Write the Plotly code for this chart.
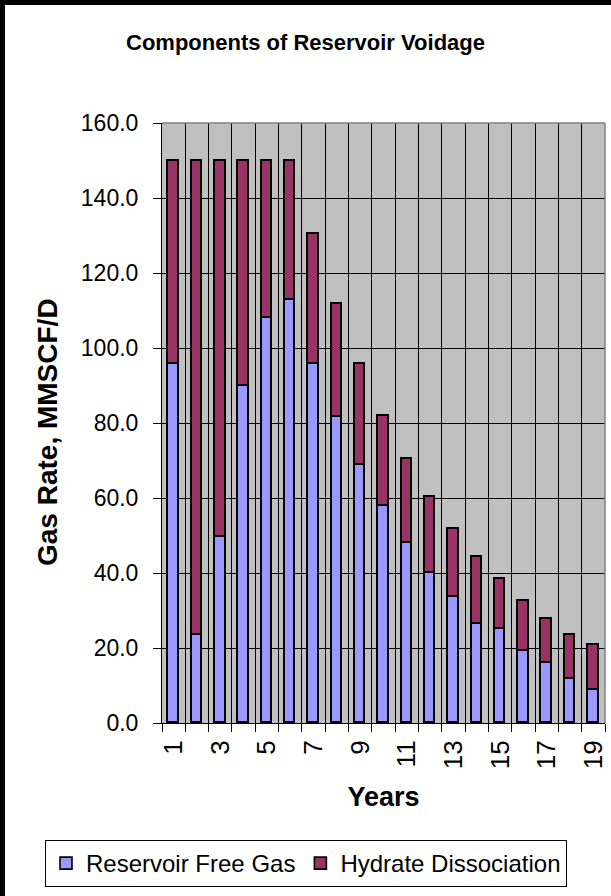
import plotly.graph_objects as go

years = [1, 2, 3, 4, 5, 6, 7, 8, 9, 10, 11, 12, 13, 14, 15, 16, 17, 18, 19]
free_gas = [95.7, 23.6, 49.7, 90.0, 108.0, 112.7, 95.7, 81.5, 68.7, 58.0,
            48.0, 40.1, 33.7, 26.3, 25.2, 19.3, 16.1, 11.8, 8.7]
hydrate = [54.3, 126.4, 100.3, 60.0, 42.0, 37.3, 34.6, 30.2, 27.1, 24.0,
           22.3, 20.2, 18.1, 18.1, 13.2, 13.3, 11.7, 11.8, 12.2]
tick_years = [1, 3, 5, 7, 9, 11, 13, 15, 17, 19]
y_ticks = [0, 20, 40, 60, 80, 100, 120, 140, 160]

W, H = 611, 896
L, R, T, B = 162, 6, 123, 173
FONT = "Liberation Sans, Arial, sans-serif"

boundaries = [y - 0.5 for y in years] + [years[-1] + 0.5]

fig = go.Figure()
fig.add_trace(go.Bar(x=years, y=free_gas, name="Reservoir Free Gas",
                     marker=dict(color="#9999FF", line=dict(color="black", width=1.6)),
                     width=0.45))
fig.add_trace(go.Bar(x=years, y=hydrate, name="Hydrate Dissociation",
                     marker=dict(color="#993366", line=dict(color="black", width=1.6)),
                     width=0.45))

pw = W - L - R
ph = H - T - B
def px_x(p):
    return (p - L) / pw
def px_y(p):
    return (H - B - p) / ph

shapes = [
    # black frame: left band and top band
    dict(type="rect", xref="paper", yref="paper", x0=px_x(-5), x1=px_x(5),
         y0=px_y(H + 5), y1=px_y(-5), fillcolor="black",
         line=dict(width=0), layer="above"),
    dict(type="rect", xref="paper", yref="paper", x0=px_x(-5), x1=px_x(W + 5),
         y0=px_y(5), y1=px_y(-5), fillcolor="black",
         line=dict(width=0), layer="above"),
    # gray top and right border of plot area
    dict(type="line", xref="paper", yref="paper", x0=0, x1=1, y0=1, y1=1,
         line=dict(color="#808080", width=1.5), layer="above"),
    dict(type="line", xref="paper", yref="paper", x0=1, x1=1, y0=0, y1=1,
         line=dict(color="#808080", width=1.5), layer="above"),
]

annotations = [
    dict(text="<b>Gas Rate, MMSCF/D</b>", xref="paper", yref="paper",
         x=px_x(47), y=px_y(432), xanchor="center", yanchor="middle",
         textangle=-90, showarrow=False,
         font=dict(family=FONT, size=28, color="black")),
]

fig.update_layout(
    width=W, height=H, autosize=False,
    margin=dict(l=L, r=R, t=T, b=B, autoexpand=False),
    barmode="stack",
    paper_bgcolor="white",
    plot_bgcolor="#C0C0C0",
    font=dict(family=FONT, color="black"),
    title=dict(text="<b>Components of Reservoir Voidage</b>", x=0.5, xref="container",
               y=1 - 42 / H, yanchor="middle", yref="container",
               font=dict(family=FONT, size=22, color="black")),
    showlegend=True,
    legend=dict(orientation="h", x=px_x(45), xanchor="left", y=px_y(840), yanchor="top",
                bordercolor="black", borderwidth=1, bgcolor="white",
                font=dict(family=FONT, size=24, color="black"), traceorder="normal",
                itemwidth=30),
    shapes=shapes,
    annotations=annotations,
    bargap=0,
)

fig.update_xaxes(
    range=[boundaries[0], boundaries[-1]],
    tickmode="array", tickvals=tick_years, ticktext=[str(v) for v in tick_years],
    tickangle=-90, ticks="", showgrid=False, zeroline=False,
    tickfont=dict(family=FONT, size=26, color="black"),
    ticklabelstandoff=6,
    showline=True, linecolor="black", linewidth=1,
    minor=dict(tickmode="array", tickvals=boundaries, ticks="outside", ticklen=8,
               tickcolor="black", tickwidth=1, showgrid=True, gridcolor="black", gridwidth=1),
    title=dict(text="<b>Years</b>", font=dict(family=FONT, size=27, color="black"), standoff=18),
)
fig.update_yaxes(
    range=[0, 160], tickmode="array", tickvals=y_ticks, tickformat=".1f",
    ticks="outside", ticklen=8, tickcolor="black",
    ticklabelstandoff=10,
    showgrid=True, gridcolor="black", gridwidth=1, zeroline=False,
    showline=True, linecolor="black", linewidth=1,
    tickfont=dict(family=FONT, size=23, color="black"),
)

fig.write_html("out.html", config={"displayModeBar": False},
               post_script="document.body.style.margin='0px';")
